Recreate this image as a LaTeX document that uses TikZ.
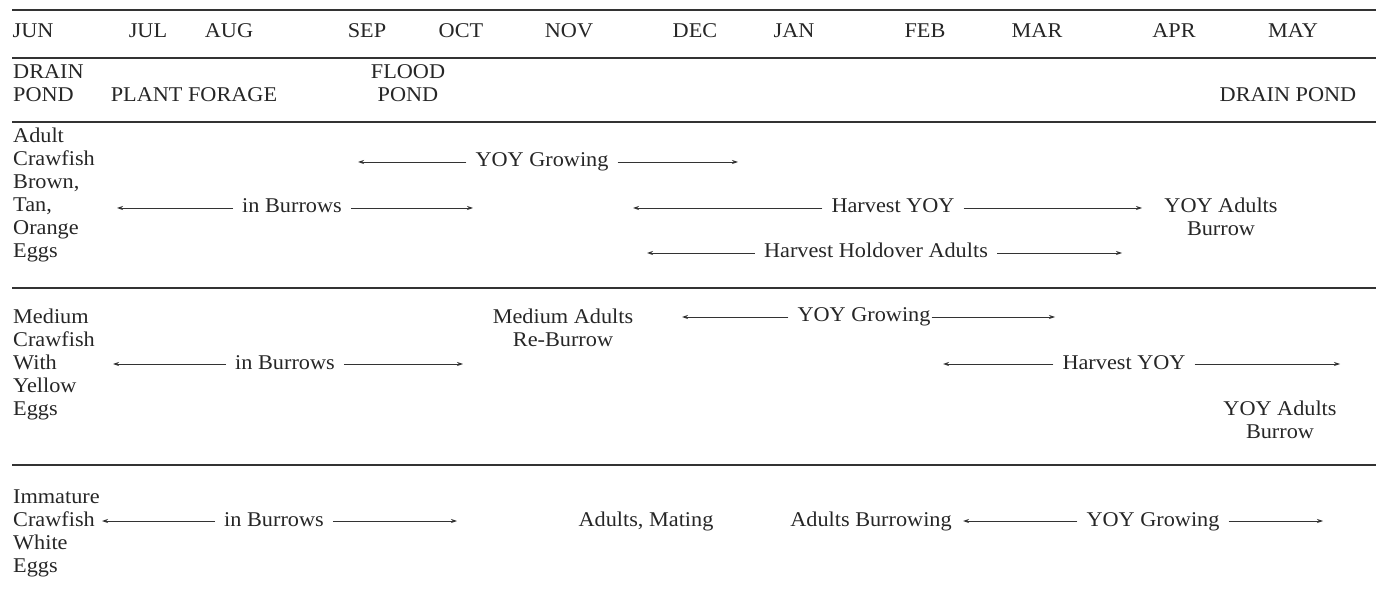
\documentclass[tikz,border=0pt]{standalone}
\usepackage{fontspec}
\setmainfont{Liberation Serif}[FakeStretch=1.06]
\usetikzlibrary{arrows.meta}

\begin{document}
\begin{tikzpicture}[x=1pt, y=-1pt,
  rule/.style={line width=2pt, black!80},
  lbl/.style={font=\fontsize{21}{23}\selectfont, text=black!85, inner xsep=9pt, inner ysep=0pt,
    text height=14pt, text depth=4pt, anchor=base},
  side/.style={font=\fontsize{21}{23}\selectfont, text=black!85, inner sep=0pt, align=left, anchor=base west},
  pair/.style={font=\fontsize{21}{23}\selectfont, text=black!85, inner sep=0pt, align=center, anchor=base},
  tip/.style={-{Stealth[length=6pt,width=4pt]}, line width=0.8pt, black!80}]
\useasboundingbox (0,0) rectangle (1378,593);

% rules
\foreach \y in {10,58,122,288,465}
  \draw[rule] (12,\y) -- (1376,\y);

% months
\foreach \m/\x in {JUN/33, JUL/148, AUG/229, SEP/367, OCT/461, NOV/569, DEC/695,
    JAN/794, FEB/925, MAR/1037, APR/1174, MAY/1293}
  \node[lbl] (\m) at (\x,38) {\m};

% pond work (multi-line nodes sit on their last line)
\node[side] (drain) at (13,102) {DRAIN\\POND};
\node[lbl] (forage) at (194,102) {PLANT FORAGE};
\node[pair] (flood) at (408,102) {FLOOD\\POND};
\node[lbl] (drainend) at (1288,102) {DRAIN POND};

% adult crawfish
\node[side] (adult) at (13,258) {Adult\\Crawfish\\Brown,\\Tan,\\Orange\\Eggs};
\node[lbl] (yoyA) at (542,167) {YOY Growing};
\coordinate (yoyAl) at (358,162);
\coordinate (yoyAr) at (738,162);
\draw[tip] (yoyA.west) -- (yoyAl);
\draw[tip] (yoyA.east) -- (yoyAr);
\node[lbl] (burA) at (292,213) {in Burrows};
\coordinate (burAl) at (117,208);
\coordinate (burAr) at (473,208);
\draw[tip] (burA.west) -- (burAl);
\draw[tip] (burA.east) -- (burAr);
\node[lbl] (harA) at (893,213) {Harvest YOY};
\coordinate (harAl) at (633,208);
\coordinate (harAr) at (1142,208);
\draw[tip] (harA.west) -- (harAl);
\draw[tip] (harA.east) -- (harAr);
\node[pair] (yadA) at (1221,236) {YOY Adults\\Burrow};
\node[lbl] (holdA) at (876,258) {Harvest Holdover Adults};
\coordinate (holdAl) at (647,253);
\coordinate (holdAr) at (1122,253);
\draw[tip] (holdA.west) -- (holdAl);
\draw[tip] (holdA.east) -- (holdAr);

% medium crawfish
\node[side] (medium) at (13,415) {Medium\\Crawfish\\With\\Yellow\\Eggs};
\node[pair] (rebur) at (563,346) {Medium Adults\\Re-Burrow};
\node[lbl] (yoyB) at (864,322) {YOY Growing};
\coordinate (yoyBl) at (682,317);
\coordinate (yoyBr) at (1055,317);
\draw[tip] (yoyB.west) -- (yoyBl);
\draw[tip] ([xshift=-8pt]yoyB.east) -- (yoyBr);
\node[lbl] (burB) at (285,369) {in Burrows};
\coordinate (burBl) at (113,364);
\coordinate (burBr) at (463,364);
\draw[tip] (burB.west) -- (burBl);
\draw[tip] (burB.east) -- (burBr);
\node[lbl] (harB) at (1124,369) {Harvest YOY};
\coordinate (harBl) at (943,364);
\coordinate (harBr) at (1340,364);
\draw[tip] (harB.west) -- (harBl);
\draw[tip] (harB.east) -- (harBr);
\node[pair] (yadB) at (1280,438) {YOY Adults\\Burrow};

% immature crawfish
\node[side] (immature) at (13,572) {Immature\\Crawfish\\White\\Eggs};
\node[lbl] (burC) at (274,526) {in Burrows};
\coordinate (burCl) at (102,521);
\coordinate (burCr) at (457,521);
\draw[tip] (burC.west) -- (burCl);
\draw[tip] (burC.east) -- (burCr);
\node[lbl] (mating) at (646,526) {Adults, Mating};
\node[lbl] (adbur) at (871,526) {Adults Burrowing};
\node[lbl] (yoyC) at (1153,526) {YOY Growing};
\coordinate (yoyCl) at (963,521);
\coordinate (yoyCr) at (1323,521);
\draw[tip] (yoyC.west) -- (yoyCl);
\draw[tip] (yoyC.east) -- (yoyCr);
\end{tikzpicture}
\end{document}
